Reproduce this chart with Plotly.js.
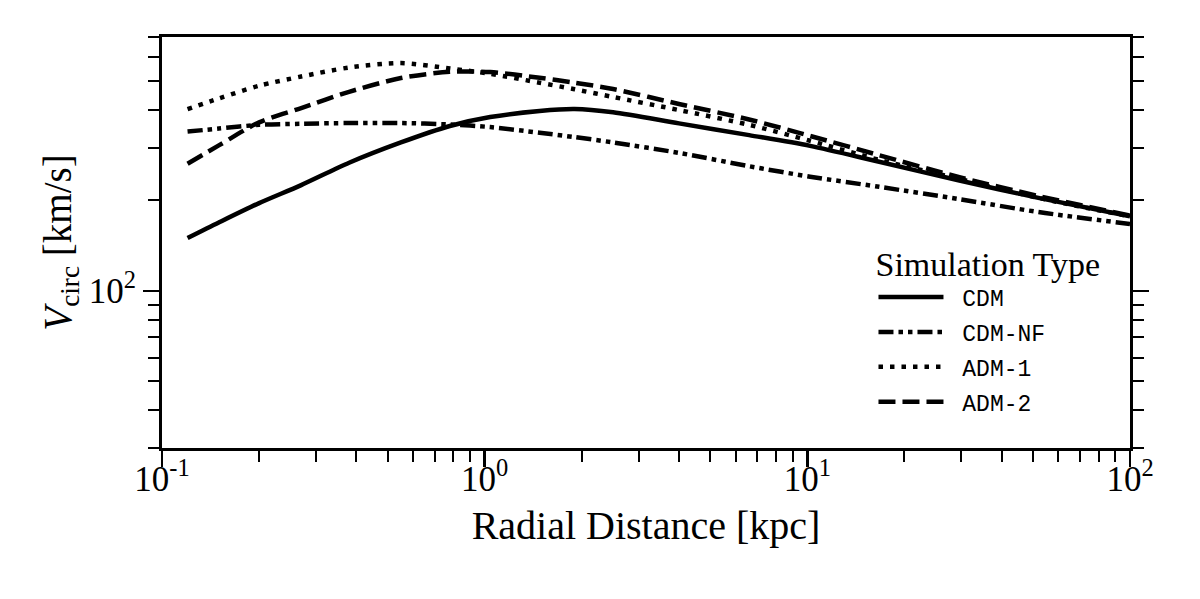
<!DOCTYPE html>
<html>
<head>
<meta charset="utf-8">
<script src="https://cdn.plot.ly/plotly-3.0.1.min.js"></script>
<style>html,body{margin:0;padding:0;background:#fff;}#chart{width:1200px;height:599px;}</style>
</head>
<body>
<div id="chart"></div>
<script>
// Radial distance samples [kpc]
const radius = [0.12, 0.15, 0.2, 0.27, 0.38, 0.55, 0.78, 1.04, 1.48, 1.9, 2.5, 4.0, 6.6, 10.2, 16.7, 29.6, 52, 100];
// Circular velocity [km/s]
const vCDM   = [150, 169, 196, 225, 267, 312, 354, 379, 397, 403, 393, 361, 330, 304, 269, 233, 204, 177];
const vCDMNF = [339, 347, 357, 360, 362, 362, 358, 351, 336, 325, 312, 288, 260, 240, 222, 202, 183, 167];
const vADM1  = [403, 437, 482, 517, 554, 573, 550, 528, 493, 469, 442, 400, 357, 316, 273, 236, 204, 177];
const vADM2  = [265, 305, 364, 406, 460, 511, 536, 535, 512, 493, 470, 419, 372, 328, 283, 239, 207, 178];
const seriesNames = ['CDM', 'CDM-NF', 'ADM-1', 'ADM-2'];

const xTickVals = [0.1, 1, 10, 100];
const xTickText = ['10<sup>-1</sup>', '10<sup>0</sup>', '10<sup>1</sup>', '10<sup>2</sup>'];
const xMinorVals = [0.2,0.3,0.4,0.5,0.6,0.7,0.8,0.9, 2,3,4,5,6,7,8,9, 20,30,40,50,60,70,80,90];
const yTickVals = [100];
const yTickText = ['10<sup>2</sup>'];
const yMinorVals = [30,40,50,60,70,80,90,200,300,400,500,600,700];

const LW = 4.5;
const dashes = ['solid', '15px,5px,4.5px,5px,4.5px,5px', '4.5px,7px', '17px,7px'];
const ys = [vCDM, vCDMNF, vADM1, vADM2];
const traces = ys.map((v, i) => ({
  x: radius, y: v, type: 'scatter', mode: 'lines', name: '\u00a0' + seriesNames[i],
  legendgroup: 'g' + i,
  line: {color: '#000', width: LW, dash: dashes[i], shape: 'spline', smoothing: 0.8},
  hoverinfo: 'skip'
}));

const serif = 'Liberation Serif, Times New Roman, serif';
const layout = {
  width: 1200, height: 599,
  margin: {l: 162, r: 70, t: 37, b: 151, pad: 0},
  paper_bgcolor: '#fff', plot_bgcolor: '#fff',
  font: {family: serif, color: '#000', size: 34},
  showlegend: true,
  legend: {
    x: 0.735, y: 0.527, xanchor: 'left', yanchor: 'top',
    bgcolor: 'rgba(0,0,0,0)', borderwidth: 0,
    itemwidth: 65, tracegroupgap: 2,
    font: {family: 'Liberation Mono, DejaVu Sans Mono, monospace', size: 23, color: '#000'},
    title: {text: 'Simulation Type', font: {family: serif, size: 34, color: '#000'}}
  },
  xaxis: {
    type: 'log', range: [-1, 2],
    tickmode: 'array', tickvals: xTickVals, ticktext: xTickText,
    ticks: 'outside', ticklen: 16, tickwidth: 2.5, tickcolor: '#000',
    ticklabelstandoff: -18,
    showline: true, linewidth: 3, linecolor: '#000', mirror: true,
    showgrid: false, zeroline: false,
    tickfont: {family: serif, size: 35, color: '#000'},
    minor: {tickmode: 'array', tickvals: xMinorVals, ticks: 'outside', ticklen: 11, tickwidth: 2, tickcolor: '#000', showgrid: false},
    title: {text: 'Radial Distance [kpc]', font: {family: serif, size: 40, color: '#000'}, standoff: 13}
  },
  yaxis: {
    type: 'log', range: [Math.log10(30), Math.log10(700)],
    tickmode: 'array', tickvals: yTickVals, ticktext: yTickText,
    ticks: 'outside', ticklen: 16, tickwidth: 2.5, tickcolor: '#000',
    showline: true, linewidth: 3, linecolor: '#000', mirror: 'allticks',
    showgrid: false, zeroline: false,
    tickfont: {family: serif, size: 35, color: '#000'},
    minor: {tickmode: 'array', tickvals: yMinorVals, ticks: 'outside', ticklen: 11, tickwidth: 2, tickcolor: '#000', showgrid: false},
    title: {text: '<i>V</i><sub>circ</sub> [km/s]', font: {family: serif, size: 39, color: '#000'}, standoff: 6}
  }
};
Plotly.newPlot('chart', traces, layout, {staticPlot: true, displayModeBar: false});
</script>
</body>
</html>
